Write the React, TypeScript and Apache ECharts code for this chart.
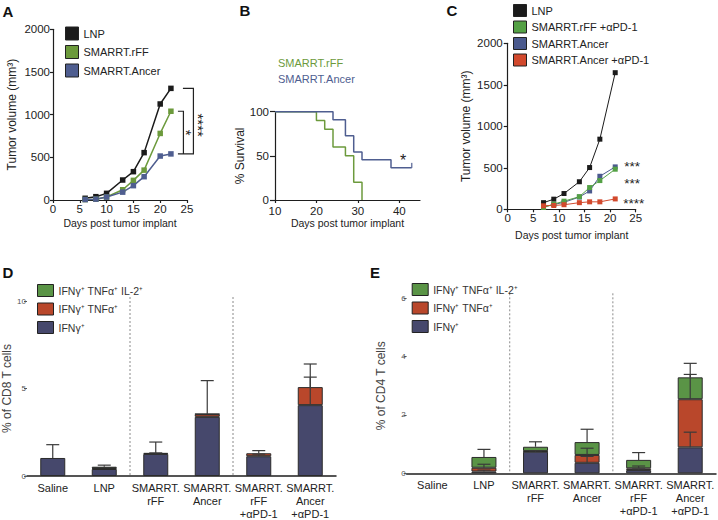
import React, { useEffect, useRef } from 'react';
import * as echarts from 'echarts';

// ---------- Panel A: tumor volume ----------
const daysA = [6, 8, 10, 13, 15, 17, 20, 22];
const lnpA = [20, 39, 78, 234, 332, 555, 1125, 1308];
const rffA = [5, 10, 35, 120, 230, 350, 780, 1040];
const ancerA = [5, 10, 35, 92, 168, 273, 515, 540];

// ---------- Panel B: survival ----------
const rffSurvDays = [10, 20, 22, 24, 27, 29, 31];
const rffSurv = [100, 90, 80, 60, 50, 20, 0];
const ancerSurvDays = [10, 24, 27, 29, 31, 38, 43];
const ancerSurv = [100, 90.9, 72.7, 54.5, 45.5, 36.4, 36.4];
const ancerCensorDays = [43];
const ancerCensorVals = [36.4];
const survivalTicks = [10, 20, 30, 40];

// ---------- Panel C: tumor volume with aPD-1 ----------
const daysC = [7, 9, 11, 14, 16, 18, 21];
const lnpC = [80, 122, 190, 332, 503, 845, 1646];
const rffPd1C = [22, 62, 98, 152, 262, 346, 483];
const ancerC = [30, 58, 84, 148, 221, 398, 511];
const ancerPd1C = [42, 46, 55, 80, 90, 90, 125];

// ---------- Panels D / E ----------
const groups = ['Saline', 'LNP', 'SMARRT.\nrFF', 'SMARRT.\nAncer', 'SMARRT.\nrFF\n+αPD-1', 'SMARRT.\nAncer\n+αPD-1'];
const layerNames = ['IFNγ⁺', 'IFNγ⁺ TNFα⁺', 'IFNγ⁺ TNFα⁺ IL-2⁺'];

const cd8Ifng = [1.03, 0.4, 1.26, 3.38, 1.13, 4.05];
const cd8Tnf = [0, 0.04, 0.06, 0.15, 0.17, 1.03];
const cd8Il2 = [0, 0.09, 0, 0.02, 0, 0];
const cd8IfngSd = [0.76, 0, 0.06, 0, 0.12, 1.6];
const cd8TnfSd = [0, 0, 0.62, 1.92, 0.15, 1.32];
const cd8Il2Sd = [0, 0.09, 0, 0, 0, 0];

const cd4Ifng = [0, 0.06, 0.74, 0.36, 0.11, 0.89];
const cd4Tnf = [0, 0.13, 0.02, 0.27, 0.06, 1.65];
const cd4Il2 = [0, 0.37, 0.15, 0.44, 0.29, 0.75];
const cd4IfngSd = [0, 0.05, 0.03, 0.22, 0.04, 0.52];
const cd4TnfSd = [0, 0.12, 0, 0.23, 0.08, 0.85];
const cd4Il2Sd = [0, 0.26, 0.17, 0.44, 0.25, 0.48];

// ---------- styling ----------
const FONT = '"Liberation Sans", Arial, Helvetica, sans-serif';
const AX = '#1e1e1e';
const TXT = '#222';
const K = '#1b1b1b';
const A_GREEN = '#6c9a3c';
const A_BLUE = '#4f5e90';
const C_GREEN = '#54a145';
const C_BLUE = '#4b5a8e';
const C_RED = '#d2492d';
const BAR_BLUE = '#46486c';
const BAR_RED = '#b9472b';
const BAR_GREEN = '#5a9446';
const ERR = '#3a3a3a';

const zip = (xs: number[], ys: number[]) => xs.map((x, i) => [x, ys[i]]);
const strip = (n: string) => n.split('|')[1];

function vAxis(gi: number, min: number, max: number, interval: number, name: string, nameGap: number, isY: boolean, extra: any = {}) {
  return {
    type: 'value', gridIndex: gi, min, max, interval,
    name, nameLocation: 'middle', nameGap, nameRotate: isY ? 90 : 0,
    nameTextStyle: { fontFamily: FONT, fontSize: isY ? 12 : 10.5, color: TXT },
    axisLine: { show: true, onZero: false, lineStyle: { color: AX, width: 1.2 } },
    axisTick: { show: true, length: 3, lineStyle: { color: AX, width: 1.2 } },
    axisLabel: { fontFamily: FONT, fontSize: 11.5, color: TXT, margin: 3, formatter: (v: number) => String(v) },
    splitLine: { show: false },
    ...extra,
  };
}

function catAxis(gi: number) {
  return {
    type: 'category', gridIndex: gi, data: groups,
    axisLine: { show: true, lineStyle: { color: AX, width: 1.5 } },
    axisTick: { show: false },
    axisLabel: { fontFamily: FONT, fontSize: 11, color: TXT, margin: 5, lineHeight: 13, interval: 0 },
    splitLine: { show: false },
  };
}

function barYAxis(gi: number, max: number, interval: number, name: string, nameGap: number) {
  return {
    type: 'value', gridIndex: gi, min: 0, max, interval,
    name, nameLocation: 'middle', nameGap, nameRotate: 90,
    nameTextStyle: { fontFamily: FONT, fontSize: 12, color: '#444' },
    axisLine: { show: false },
    axisTick: { show: true, length: 3, lineStyle: { color: '#555', width: 1 } },
    axisLabel: { fontFamily: FONT, fontSize: 8, color: '#555', margin: 1 },
    splitLine: { show: false },
  };
}

function lineSeries(name: string, xs: number[], ys: number[], color: string, axis: number, size: number, width: number) {
  return {
    type: 'line', name, xAxisIndex: axis, yAxisIndex: axis, data: zip(xs, ys),
    symbol: 'rect', symbolSize: size, itemStyle: { color }, lineStyle: { color, width }, z: 3,
  };
}

const nz = (arr: number[]) => arr.map((v) => (v > 0 ? v : '-'));

function barSeries(prefix: string, axis: number, layers: number[][]) {
  const colors = [BAR_BLUE, BAR_RED, BAR_GREEN];
  return layers.map((vals, k) => ({
    type: 'bar', name: prefix + '|' + layerNames[k], xAxisIndex: axis, yAxisIndex: axis,
    stack: prefix, barWidth: 25, data: nz(vals),
    itemStyle: { color: colors[k], borderColor: '#2b2b2b', borderWidth: 1 },
  }));
}

function errData(layers: number[][], sds: number[][]) {
  const out: number[][] = [];
  for (let i = 0; i < layers[0].length; i++) {
    let base = 0;
    for (let k = 0; k < layers.length; k++) {
      base += layers[k][i];
      if (sds[k][i] > 0) out.push([i, base, base + sds[k][i]]);
    }
  }
  return out;
}

function errSeries(axis: number, data: number[][]) {
  return {
    type: 'custom', name: 'err' + axis, xAxisIndex: axis, yAxisIndex: axis, data, z: 10,
    encode: { x: 0, y: [1, 2] },
    renderItem: (params: any, api: any) => {
      const p1 = api.coord([api.value(0), api.value(1)]);
      const p2 = api.coord([api.value(0), api.value(2)]);
      const st = { stroke: ERR, lineWidth: 1.2 };
      return {
        type: 'group',
        children: [
          { type: 'line', shape: { x1: p1[0], y1: p1[1], x2: p2[0], y2: p2[1] }, style: st },
          { type: 'line', shape: { x1: p2[0] - 6.5, y1: p2[1], x2: p2[0] + 6.5, y2: p2[1] }, style: st },
        ],
      };
    },
  };
}

function legend(names: string[], left: number, top: number, iconW: number, iconH: number, gap: number, fontSize: number, extra: any = {}) {
  return {
    orient: 'vertical', left, top, padding: 0, selectedMode: false, icon: 'rect',
    itemWidth: iconW, itemHeight: iconH, itemGap: gap,
    data: names, formatter: strip,
    textStyle: { fontFamily: FONT, fontSize, color: TXT, lineHeight: iconH },
    itemStyle: { borderColor: '#222', borderWidth: 1 },
    ...extra,
  };
}

function buildOption() {
  const d8 = [cd8Ifng, cd8Tnf, cd8Il2];
  const d4 = [cd4Ifng, cd4Tnf, cd4Il2];
  return {
    animation: false,
    textStyle: { fontFamily: FONT },
    grid: [
      { left: 53, top: 29.3, width: 134, height: 170.7 },
      { left: 275, top: 111.7, width: 145, height: 88.3 },
      { left: 507.7, top: 43.3, width: 128, height: 166 },
      { left: 27, top: 301, width: 309, height: 177.3 },
      { left: 406.6, top: 298.3, width: 309.4, height: 175 },
    ],
    xAxis: [
      vAxis(0, 0, 25, 5, 'Days post tumor implant', 17, false),
      vAxis(1, 10, 45, 10, 'Days post tumor implant', 17, false, {
        axisTick: { show: true, length: 3, customValues: survivalTicks, lineStyle: { color: AX, width: 1.2 } },
        axisLabel: { fontFamily: FONT, fontSize: 11.5, color: TXT, margin: 5, customValues: survivalTicks },
      }),
      vAxis(2, 0, 25, 5, 'Days post tumor implant', 20, false),
      catAxis(3),
      catAxis(4),
    ],
    yAxis: [
      vAxis(0, 0, 2000, 500, 'Tumor volume (mm³)', 35, true),
      vAxis(1, 0, 100, 50, '% Survival', 26, true, {
        axisTick: { show: true, length: 5, lineStyle: { color: AX, width: 1.2 } },
        axisLabel: { fontFamily: FONT, fontSize: 11.5, color: TXT, margin: 6, formatter: (v: number) => String(v) },
      }),
      vAxis(2, 0, 2000, 500, 'Tumor volume (mm³)', 36, true, {
        axisTick: { show: true, length: 4, lineStyle: { color: AX, width: 1.2 } },
        axisLabel: { fontFamily: FONT, fontSize: 11.5, color: TXT, margin: 5, formatter: (v: number) => String(v) },
      }),
      barYAxis(3, 10, 5, '% of CD8 T cells', 12),
      barYAxis(4, 6, 2, '% of CD4 T cells', 20),
    ],
    legend: [
      legend(['A|LNP', 'A|SMARRT.rFF', 'A|SMARRT.Ancer'], 65, 26.5, 13, 13, 4.5, 11),
      legend(['B|SMARRT.rFF', 'B|SMARRT.Ancer'], 273, 57, 0, 12, 4, 11, {
        data: [
          { name: 'B|SMARRT.rFF', textStyle: { color: A_GREEN } },
          { name: 'B|SMARRT.Ancer', textStyle: { color: A_BLUE } },
        ],
        itemStyle: { borderWidth: 0, opacity: 0 },
      }),
      legend(['C|LNP', 'C|SMARRT.rFF +αPD-1', 'C|SMARRT.Ancer', 'C|SMARRT.Ancer +αPD-1'], 513, 4, 13, 12, 3.5, 11),
      legend(['D|' + layerNames[2], 'D|' + layerNames[1], 'D|' + layerNames[0]], 37, 284, 16, 12, 5.5, 10.5, { textStyle: { fontFamily: FONT, fontSize: 10.5, color: '#333', lineHeight: 12 } }),
      legend(['E|' + layerNames[2], 'E|' + layerNames[1], 'E|' + layerNames[0]], 411.7, 283, 16, 12, 5.5, 10.5, { textStyle: { fontFamily: FONT, fontSize: 10.5, color: '#333', lineHeight: 12 } }),
    ],
    series: [
      lineSeries('A|LNP', daysA, lnpA, K, 0, 5.5, 1.5),
      lineSeries('A|SMARRT.rFF', daysA, rffA, A_GREEN, 0, 5.5, 1.5),
      lineSeries('A|SMARRT.Ancer', daysA, ancerA, A_BLUE, 0, 5.5, 1.5),
      {
        type: 'line', name: 'B|SMARRT.rFF', xAxisIndex: 1, yAxisIndex: 1, step: 'end', symbol: 'none',
        data: zip(rffSurvDays, rffSurv), itemStyle: { color: A_GREEN }, lineStyle: { color: A_GREEN, width: 1.5 },
      },
      {
        type: 'line', name: 'B|SMARRT.Ancer', xAxisIndex: 1, yAxisIndex: 1, step: 'end', symbol: 'none',
        data: zip(ancerSurvDays, ancerSurv), itemStyle: { color: A_BLUE }, lineStyle: { color: A_BLUE, width: 1.5 },
      },
      {
        type: 'scatter', name: 'B|censor', xAxisIndex: 1, yAxisIndex: 1, symbol: 'rect', symbolSize: [1.5, 5],
        symbolOffset: [0, -2.5], data: zip(ancerCensorDays, ancerCensorVals), itemStyle: { color: A_BLUE },
      },
      lineSeries('C|LNP', daysC, lnpC, K, 2, 5, 1),
      lineSeries('C|SMARRT.Ancer', daysC, ancerC, C_BLUE, 2, 5, 1),
      lineSeries('C|SMARRT.rFF +αPD-1', daysC, rffPd1C, C_GREEN, 2, 5, 1),
      lineSeries('C|SMARRT.Ancer +αPD-1', daysC, ancerPd1C, C_RED, 2, 5, 1),
      ...barSeries('D', 3, d8),
      errSeries(3, errData(d8, [cd8IfngSd, cd8TnfSd, cd8Il2Sd])),
      ...barSeries('E', 4, d4),
      errSeries(4, errData(d4, [cd4IfngSd, cd4TnfSd, cd4Il2Sd])),
    ],
  };
}

function txt(text: string, x: number, y: number, size: number, extra: any = {}) {
  return {
    type: 'text', x, y, z: 20,
    style: {
      text, fontSize: size, fontFamily: FONT, fill: TXT,
      align: 'center', verticalAlign: 'middle', textAlign: 'center', textVerticalAlign: 'middle',
      ...(extra.style || {}),
    },
    ...(extra.el || {}),
  };
}

function buildGraphic(chart: any) {
  const px = (gi: number, x: any, y: number) => chart.convertToPixel({ gridIndex: gi }, [x, y]) as number[];
  const g: any[] = [];
  const bold = { style: { fontWeight: 'bold', fill: '#111' } };
  g.push(txt('A', 8, 11, 15, bold), txt('B', 245, 10, 15, bold), txt('C', 452, 10, 15, bold),
    txt('D', 8, 272, 15, bold), txt('E', 375, 272, 15, bold));

  // Panel A significance brackets
  const la = daysA.length - 1;
  const pL = px(0, daysA[la], lnpA[la]);
  const pR = px(0, daysA[la], rffA[la]);
  const pN = px(0, daysA[la], ancerA[la]);
  const xi0 = pL[0] + 7, xi1 = pL[0] + 12.5, xo0 = pL[0] + 12, xo1 = pL[0] + 22.5;
  const ln = { stroke: '#222', lineWidth: 1.2, fill: 'none' };
  g.push({ type: 'polyline', shape: { points: [[xo0, pL[1]], [xo1, pL[1]], [xo1, pN[1]], [xi0, pN[1]]] }, style: ln });
  g.push({ type: 'polyline', shape: { points: [[xi0, pR[1]], [xi1, pR[1]], [xi1, pN[1]]] }, style: ln });
  g.push(txt('*', xi1 + 3.5, (pR[1] + pN[1]) / 2, 15, { el: { rotation: -Math.PI / 2 } }));
  g.push(txt('****', xo1 + 5, (pL[1] + pN[1]) / 2 + 4, 15, { el: { rotation: -Math.PI / 2 } }));

  // Panel B asterisk
  const lb = ancerSurvDays.length - 1;
  const pB = px(1, ancerSurvDays[lb], ancerSurv[lb]);
  g.push(txt('*', pB[0] - 8.7, pB[1] - 7, 16));

  // Panel C asterisks
  const lc = daysC.length - 1;
  const left = { style: { align: 'left', textAlign: 'left' } };
  const pA = px(2, daysC[lc], ancerC[lc]);
  const pG = px(2, daysC[lc], rffPd1C[lc]);
  const pRd = px(2, daysC[lc], ancerPd1C[lc]);
  g.push(txt('***', pA[0] + 9, pA[1] - 0.5, 13.5, left));
  g.push(txt('***', pG[0] + 9, pG[1] + 14, 13.5, left));
  g.push(txt('****', pRd[0] + 8, pRd[1] + 4.5, 13.5, left));

  // Dashed separators D / E
  const dash = { stroke: '#8a8a8a', lineWidth: 1, lineDash: [2, 2] };
  [[3, 10, 4], [4, 6, 5]].forEach(([gi, top, ext]) => {
    [1, 3].forEach((i) => {
      const a = px(gi, i, 0);
      const b = px(gi, i + 1, 0);
      const t = px(gi, i, top);
      const x = (a[0] + b[0]) / 2;
      g.push({ type: 'line', shape: { x1: x, y1: t[1] - ext, x2: x, y2: a[1] }, style: dash, z: 1 });
    });
  });
  return g;
}

export default function App() {
  const ref = useRef<HTMLDivElement>(null);
  useEffect(() => {
    const chart = echarts.init(ref.current as HTMLDivElement, null, { renderer: 'svg' });
    chart.setOption(buildOption() as any);
    chart.setOption({ graphic: buildGraphic(chart) } as any);
    return () => chart.dispose();
  }, []);
  return <div ref={ref} style={{ position: 'fixed', left: 0, top: 0, width: 718, height: 520, background: '#fff' }} />;
}
